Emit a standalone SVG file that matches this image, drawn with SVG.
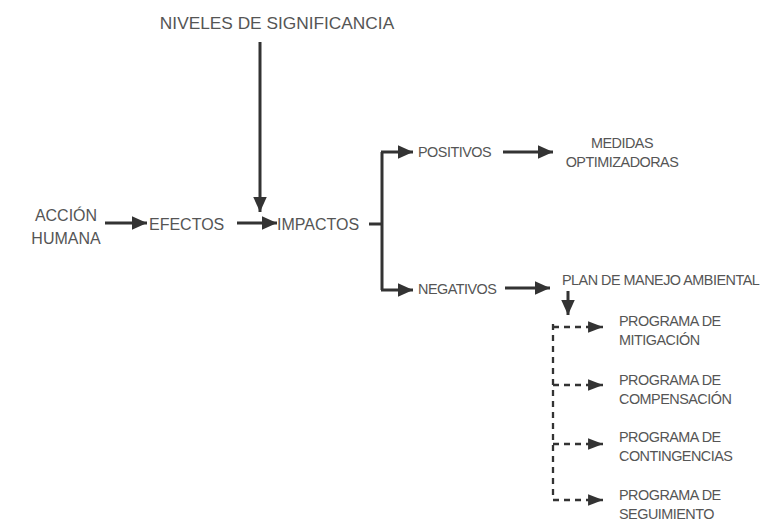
<svg xmlns="http://www.w3.org/2000/svg" width="765" height="523" viewBox="0 0 765 523">
<defs>
<marker id="ah" viewBox="0 0 10 10" refX="10" refY="5" markerWidth="5" markerHeight="4.5" orient="auto" markerUnits="strokeWidth" preserveAspectRatio="none">
<path d="M0,0 L10,5 L0,10 Z" fill="#333"/>
</marker>
<marker id="ahs" viewBox="0 0 10 10" refX="10" refY="5" markerWidth="6.5" markerHeight="5" orient="auto" markerUnits="strokeWidth" preserveAspectRatio="none">
<path d="M0,0 L10,5 L0,10 Z" fill="#333"/>
</marker>
</defs>
<style>
text{font-family:"Liberation Sans",Arial,sans-serif;fill:#555}
.big{font-size:17.3px}
.mid{font-size:16px}
.sm{font-size:14.4px;letter-spacing:-0.5px}
.ln{stroke:#333;stroke-width:3;fill:none}
.dl{stroke:#333;stroke-width:2.3;fill:none;stroke-dasharray:6,5}
</style>
<rect width="765" height="523" fill="#fff"/>
<g id="connectors">
<path class="ln" d="M260,42 V212" marker-end="url(#ah)"/>
<path class="ln" d="M105,223 H147" marker-end="url(#ah)"/>
<path class="ln" d="M237,223 H277" marker-end="url(#ah)"/>
<path class="ln" d="M369,224 H382"/>
<path class="ln" d="M382,152 V290"/>
<path class="ln" d="M381,152 H413" marker-end="url(#ah)"/>
<path class="ln" d="M381,290 H413" marker-end="url(#ah)"/>
<path class="ln" d="M503,152 H553" marker-end="url(#ah)"/>
<path class="ln" d="M505,288 H550" marker-end="url(#ah)"/>
<path class="ln" d="M568,291 V315" marker-end="url(#ah)"/>
<path class="dl" d="M553,324 V500"/>
<path class="dl" d="M553,327 H603" marker-end="url(#ahs)"/>
<path class="dl" d="M553,385 H603" marker-end="url(#ahs)"/>
<path class="dl" d="M553,444 H603" marker-end="url(#ahs)"/>
<path class="dl" d="M553,500 H603" marker-end="url(#ahs)"/>
</g>
<g id="niveles"><text class="big" x="277" y="29" text-anchor="middle">NIVELES DE SIGNIFICANCIA</text></g>
<g id="accion"><text class="mid" x="66" y="221" text-anchor="middle">ACCIÓN</text><text class="mid" x="66" y="244" text-anchor="middle">HUMANA</text></g>
<g id="efectos"><text class="mid" x="149" y="230">EFECTOS</text></g>
<g id="impactos"><text class="mid" x="277" y="230">IMPACTOS</text></g>
<g id="positivos"><text class="sm" x="418" y="157">POSITIVOS</text></g>
<g id="medidas"><text class="sm" x="622" y="148" text-anchor="middle">MEDIDAS</text><text class="sm" x="622" y="167" text-anchor="middle">OPTIMIZADORAS</text></g>
<g id="negativos"><text class="sm" x="418" y="294">NEGATIVOS</text></g>
<g id="plan"><text class="sm" x="562" y="285">PLAN DE MANEJO AMBIENTAL</text></g>
<g id="mitigacion"><text class="sm" x="619" y="326">PROGRAMA DE</text><text class="sm" x="619" y="345">MITIGACIÓN</text></g>
<g id="compensacion"><text class="sm" x="619" y="385">PROGRAMA DE</text><text class="sm" x="619" y="404">COMPENSACIÓN</text></g>
<g id="contingencias"><text class="sm" x="619" y="442">PROGRAMA DE</text><text class="sm" x="619" y="461">CONTINGENCIAS</text></g>
<g id="seguimiento"><text class="sm" x="619" y="500">PROGRAMA DE</text><text class="sm" x="619" y="519">SEGUIMIENTO</text></g>
</svg>
